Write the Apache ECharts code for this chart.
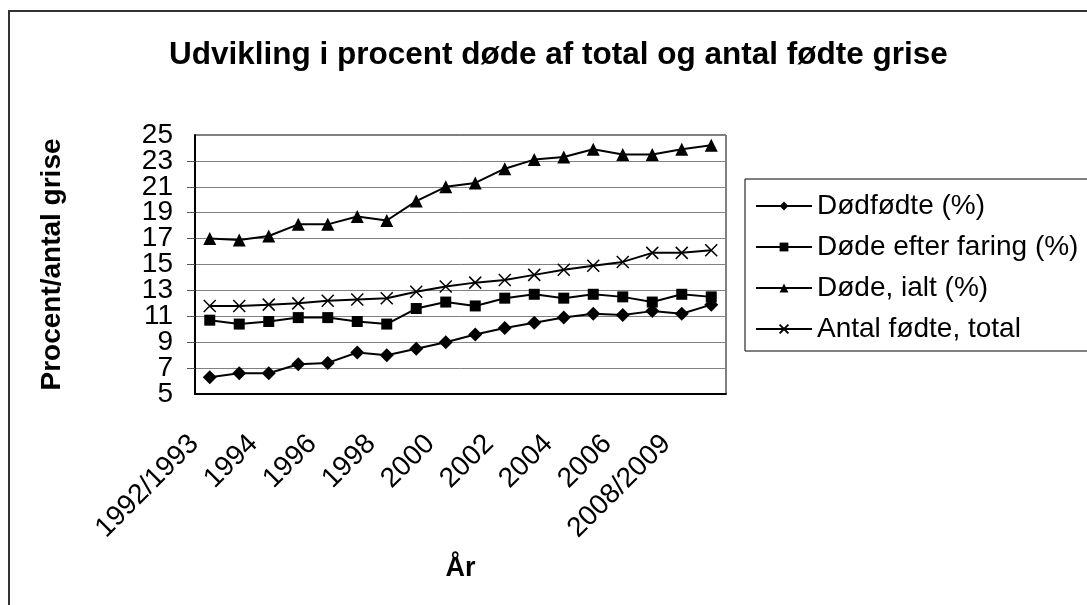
<!DOCTYPE html>
<html>
<head>
<meta charset="utf-8">
<script src="https://cdn.jsdelivr.net/npm/echarts@6/dist/echarts.min.js"></script>
<style>
  html, body { margin: 0; padding: 0; background: #fff; }
  #main { width: 1087px; height: 605px; }
</style>
</head>
<body>
<div id="main"></div>
<script>
const years = ['1992/1993', '1993', '1994', '1995', '1996', '1997', '1998', '1999', '2000',
  '2001', '2002', '2003', '2004', '2005', '2006', '2007', '2008/2009', '2009'];
const dodfodte = [6.3, 6.6, 6.6, 7.3, 7.4, 8.2, 8.0, 8.5, 9.0, 9.6, 10.1, 10.5, 10.9, 11.2, 11.1, 11.4, 11.2, 11.9];
const dodeEfterFaring = [10.7, 10.4, 10.6, 10.9, 10.9, 10.6, 10.4, 11.6, 12.1, 11.8, 12.4, 12.7, 12.4, 12.7, 12.5, 12.1, 12.7, 12.5];
const dodeIalt = [17.0, 16.9, 17.2, 18.1, 18.1, 18.7, 18.4, 19.9, 21.0, 21.3, 22.4, 23.1, 23.3, 23.9, 23.5, 23.5, 23.9, 24.2];
const antalFodte = [11.8, 11.8, 11.9, 12.0, 12.2, 12.3, 12.4, 12.9, 13.3, 13.6, 13.8, 14.2, 14.6, 14.9, 15.2, 15.9, 15.9, 16.1];
const yMin = 5;
const yMax = 25;

const FONT = '"Liberation Sans", Arial, sans-serif';
const chart = echarts.init(document.getElementById('main'));

const lineSeries = (name, data, symbol, size, extra) => ({
  name: name,
  type: 'line',
  yAxisIndex: 0,
  data: data,
  symbol: symbol,
  symbolSize: size,
  showAllSymbol: true,
  lineStyle: { color: '#000', width: 2 },
  itemStyle: Object.assign({ color: '#000', borderWidth: 0 }, extra || {}),
  emphasis: { disabled: true }
});

const yLabelStyle = { margin: 22, fontFamily: FONT, fontSize: 28, color: '#000' };

const option = {
  animation: false,
  backgroundColor: '#fff',
  textStyle: { fontFamily: FONT, color: '#000' },
  graphic: [{
    type: 'rect',
    shape: { x: 9, y: 11, width: 1100, height: 620 },
    style: { fill: 'none', stroke: '#333', lineWidth: 2 },
    z: -1
  }],
  title: {
    text: 'Udvikling i procent døde af total og antal fødte grise',
    left: 164,
    top: 34,
    textStyle: { fontFamily: FONT, fontSize: 31.5, fontWeight: 'bold', color: '#000' }
  },
  legend: {
    orient: 'vertical',
    left: 745,
    top: 179,
    padding: [13, 30, 8, 10],
    itemGap: 13,
    itemWidth: 56,
    itemHeight: 11,
    borderColor: '#000',
    borderWidth: 1,
    textStyle: { fontFamily: FONT, fontSize: 28, color: '#000' },
    data: ['Dødfødte (%)', 'Døde efter faring (%)', 'Døde, ialt (%)', 'Antal fødte, total']
  },
  grid: {
    left: 195,
    right: 361,
    top: 135,
    bottom: 211,
    show: true,
    borderColor: '#000',
    borderWidth: 1
  },
  xAxis: {
    type: 'category',
    data: years,
    name: 'År',
    nameLocation: 'middle',
    nameGap: 161,
    nameTextStyle: { fontFamily: FONT, fontSize: 27, fontWeight: 'bold', color: '#000' },
    axisLine: { lineStyle: { color: '#000', width: 2 } },
    axisTick: { interval: 0, length: 7, lineStyle: { color: '#555' } },
    axisLabel: {
      interval: 1, rotate: 45, margin: 30, padding: [0, 22, 0, 0],
      fontFamily: FONT, fontSize: 28, color: '#000'
    }
  },
  yAxis: [{
    type: 'value',
    min: yMin,
    max: yMax,
    interval: 2,
    name: 'Procent/antal grise',
    nameLocation: 'middle',
    nameRotate: 90,
    nameGap: 129,
    nameTextStyle: { fontFamily: FONT, fontSize: 28, fontWeight: 'bold', color: '#000' },
    axisLine: { show: true, lineStyle: { color: '#000', width: 2 } },
    axisTick: { show: true, length: 8, lineStyle: { color: '#555' } },
    axisLabel: Object.assign({ showMinLabel: false, showMaxLabel: false }, yLabelStyle),
    splitLine: { lineStyle: { color: '#808080', width: 1 } }
  }, {
    // second copy of the same scale, only to show the end labels 5 and 25
    type: 'value',
    position: 'left',
    min: yMin,
    max: yMax,
    interval: 2,
    axisLine: { show: false },
    axisTick: { show: false },
    splitLine: { show: false },
    axisLabel: Object.assign({
      showMinLabel: true,
      showMaxLabel: true,
      formatter: (v) => (v === yMin || v === yMax ? String(v) : '')
    }, yLabelStyle)
  }],
  series: [
    lineSeries('Dødfødte (%)', dodfodte, 'diamond', 14),
    lineSeries('Døde efter faring (%)', dodeEfterFaring, 'rect', 11),
    lineSeries('Døde, ialt (%)', dodeIalt, 'triangle', 13),
    lineSeries('Antal fødte, total', antalFodte, 'path://M0,0L10,10M0,10L10,0', 12,
      { borderColor: '#000', borderWidth: 1.5 })
  ]
};

chart.setOption(option);
</script>
</body>
</html>
